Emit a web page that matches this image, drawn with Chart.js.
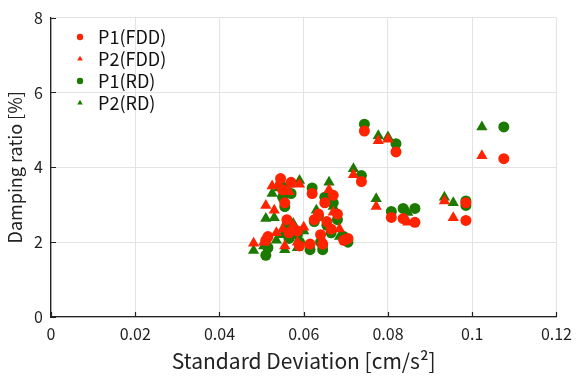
<!DOCTYPE html>
<html>
<head>
<meta charset="utf-8">
<script src="https://cdn.jsdelivr.net/npm/chart.js@4.4.0/dist/chart.umd.min.js"></script>
<style>
  html, body { margin: 0; padding: 0; background: #fff; }
  #wrap { width: 579px; height: 378px; }
</style>
</head>
<body>
<div id="wrap"><canvas id="c" width="579" height="378"></canvas></div>
<script>
// P1 = circles, P2 = triangles; same x for FDD and RD
const p1X   = [0.0510, 0.0515, 0.0545, 0.0550, 0.0555, 0.0560, 0.0565, 0.0570, 0.0585, 0.0590, 0.0615, 0.0620, 0.0625, 0.0635, 0.0640, 0.0645, 0.0650, 0.0655, 0.0665, 0.0670, 0.0680, 0.0695, 0.0705, 0.0737, 0.0744, 0.0808, 0.0819, 0.0836, 0.0864, 0.0985, 0.0985, 0.1075];
const p1FDD = [2.05, 2.15, 3.70, 3.40, 3.05, 2.60, 2.25, 3.60, 2.30, 1.90, 1.95, 3.30, 2.60, 2.75, 2.20, 1.95, 3.05, 2.55, 2.35, 3.25, 2.75, 2.05, 2.10, 3.62, 4.97, 2.66, 4.41, 2.63, 2.53, 2.58, 3.05, 4.23];
const p1RD  = [1.65, 1.85, 3.55, 3.20, 2.95, 2.45, 2.10, 3.30, 2.20, 2.00, 1.80, 3.45, 2.55, 2.70, 2.00, 1.80, 3.20, 2.45, 2.25, 3.05, 2.60, 2.15, 2.00, 3.78, 5.15, 2.82, 4.63, 2.90, 2.90, 3.10, 2.98, 5.08];

const p2X   = [0.0481, 0.0505, 0.0510, 0.0525, 0.0530, 0.0535, 0.0540, 0.0550, 0.0555, 0.0565, 0.0575, 0.0585, 0.0590, 0.0600, 0.0630, 0.0645, 0.0660, 0.0670, 0.0685, 0.0718, 0.0772, 0.0777, 0.0800, 0.0847, 0.0934, 0.0955, 0.1023];
const p2FDD = [1.97, 2.00, 2.98, 3.50, 2.85, 2.25, 3.55, 2.35, 1.90, 3.35, 2.45, 2.00, 3.55, 2.40, 2.65, 2.05, 3.40, 2.80, 2.35, 3.80, 2.95, 4.71, 4.75, 2.53, 3.10, 2.65, 4.31];
const p2RD  = [1.78, 1.90, 2.63, 3.30, 2.65, 2.05, 3.45, 2.20, 1.80, 3.55, 2.50, 1.85, 3.65, 2.30, 2.85, 1.95, 3.60, 2.95, 2.15, 3.96, 3.16, 4.84, 4.81, 2.79, 3.20, 3.05, 5.08];

const xTicks = [0, 0.02, 0.04, 0.06, 0.08, 0.1, 0.12];
const yTicks = [0, 2, 4, 6, 8];

const red = 'rgb(255,35,0)';
const green = 'rgb(28,122,0)';
const fnt = '"Noto Sans CJK JP", "Noto Sans", sans-serif';

function pts(xs, ys) { return xs.map((x, i) => ({ x: x, y: ys[i] })); }

// inward tick marks
const innerTicks = {
    id: 'innerTicks',
    afterDraw(chart) {
        const ctx = chart.ctx, xs = chart.scales.x, ys = chart.scales.y;
        const a = chart.chartArea;
        ctx.save();
        ctx.strokeStyle = '#222';
        ctx.lineWidth = 1.2;
        ctx.beginPath();
        xTicks.forEach(v => {
            const px = Math.round(xs.getPixelForValue(v)) + 0.5;
            ctx.moveTo(px, a.bottom);
            ctx.lineTo(px, a.bottom - 5);
        });
        yTicks.forEach(v => {
            const py = Math.round(ys.getPixelForValue(v)) + 0.5;
            ctx.moveTo(a.left, py);
            ctx.lineTo(a.left + 5, py);
        });
        ctx.stroke();
        ctx.restore();
    }
};

// nudge the in-plot legend away from the axes
const legendShift = {
    id: 'legendShift',
    afterLayout(chart) {
        const L = chart.legend;
        if (!L) return;
        const dx = 16, dy = 24;
        L.left += dx; L.right += dx;
        L.top += dy; L.bottom += dy;
    }
};

new Chart(document.getElementById('c'), {
    type: 'scatter',
    data: {
        datasets: [
            { label: 'P1(FDD)', data: pts(p1X, p1FDD), pointStyle: 'circle', pointRadius: 5.5, backgroundColor: red, borderColor: red, borderWidth: 0 },
            { label: 'P2(FDD)', data: pts(p2X, p2FDD), pointStyle: 'triangle', pointRadius: 6.5, backgroundColor: red, borderColor: red, borderWidth: 0 },
            { label: 'P1(RD)', data: pts(p1X, p1RD), pointStyle: 'circle', pointRadius: 5.5, backgroundColor: green, borderColor: green, borderWidth: 0 },
            { label: 'P2(RD)', data: pts(p2X, p2RD), pointStyle: 'triangle', pointRadius: 6.5, backgroundColor: green, borderColor: green, borderWidth: 0 }
        ]
    },
    options: {
        responsive: false,
        animation: false,
        layout: { padding: { top: 16, right: 17, left: 0, bottom: 0 } },
        plugins: {
            tooltip: { enabled: false },
            legend: {
                position: 'chartArea',
                align: 'start',
                labels: {
                    usePointStyle: true,
                    boxWidth: 18,
                    boxHeight: 4.5,
                    padding: 4,
                    color: '#111',
                    font: { family: fnt, size: 18 }
                }
            }
        },
        scales: {
            x: {
                type: 'linear',
                min: 0, max: 0.12,
                afterBuildTicks: s => { s.ticks = xTicks.map(v => ({ value: v })); },
                afterFit: s => { s.height = 61; },
                grid: { color: '#e3e3e3', drawTicks: false },
                border: { color: '#222', width: 1.3 },
                ticks: { color: '#222', padding: 7, font: { family: fnt, size: 16 }, callback: v => String(v) },
                title: { display: true, text: 'Standard Deviation [cm/s²]', color: '#222', padding: { top: 2 }, font: { family: fnt, size: 21 } }
            },
            y: {
                type: 'linear',
                min: 0, max: 8,
                afterBuildTicks: s => { s.ticks = yTicks.map(v => ({ value: v })); },
                afterFit: s => { s.width = 51; },
                grid: { color: '#e3e3e3', drawTicks: false },
                border: { color: '#222', width: 1.3 },
                ticks: { color: '#222', padding: 8, font: { family: fnt, size: 16 } },
                title: { display: true, text: 'Damping ratio [%]', color: '#222', padding: { bottom: 1 }, font: { family: fnt, size: 18 } }
            }
        }
    },
    plugins: [innerTicks, legendShift]
});
</script>
</body>
</html>
